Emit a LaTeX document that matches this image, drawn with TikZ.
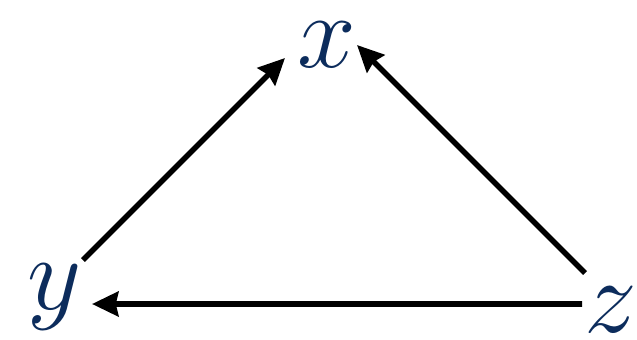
\RequirePackage{fix-cm}
\documentclass[tikz,border=0pt]{standalone}
\usetikzlibrary{arrows.meta, positioning}
\definecolor{varblue}{RGB}{12,44,92}

\begin{document}
\begin{tikzpicture}[
    letter/.style={text=varblue, font=\fontsize{60}{60}\selectfont, inner sep=0pt, anchor=base},
    arrow/.style={-{Stealth[length=15pt, width=14pt, inset=1.5pt]}, line width=3.2pt}
]
\useasboundingbox (0,0) rectangle (12.74,6.78);

\node[letter] (x) at (6.54,5.42) {$x$};
\node[letter] (y) at (1.1,0.6) {$y$};
\node[letter] (z) at (12.22,0.14) {$z$};

\draw[arrow] ([shift={(0.56,0.98)}]y.base) -- ([shift={(-0.84,0.20)}]x.base);
\draw[arrow] ([shift={(-0.52,1.18)}]z.base) -- ([shift={(0.60,0.46)}]x.base);
\draw[arrow] ([shift={(-0.58,0.56)}]z.base) -- ([shift={(0.74,0.10)}]y.base);

\end{tikzpicture}
\end{document}
